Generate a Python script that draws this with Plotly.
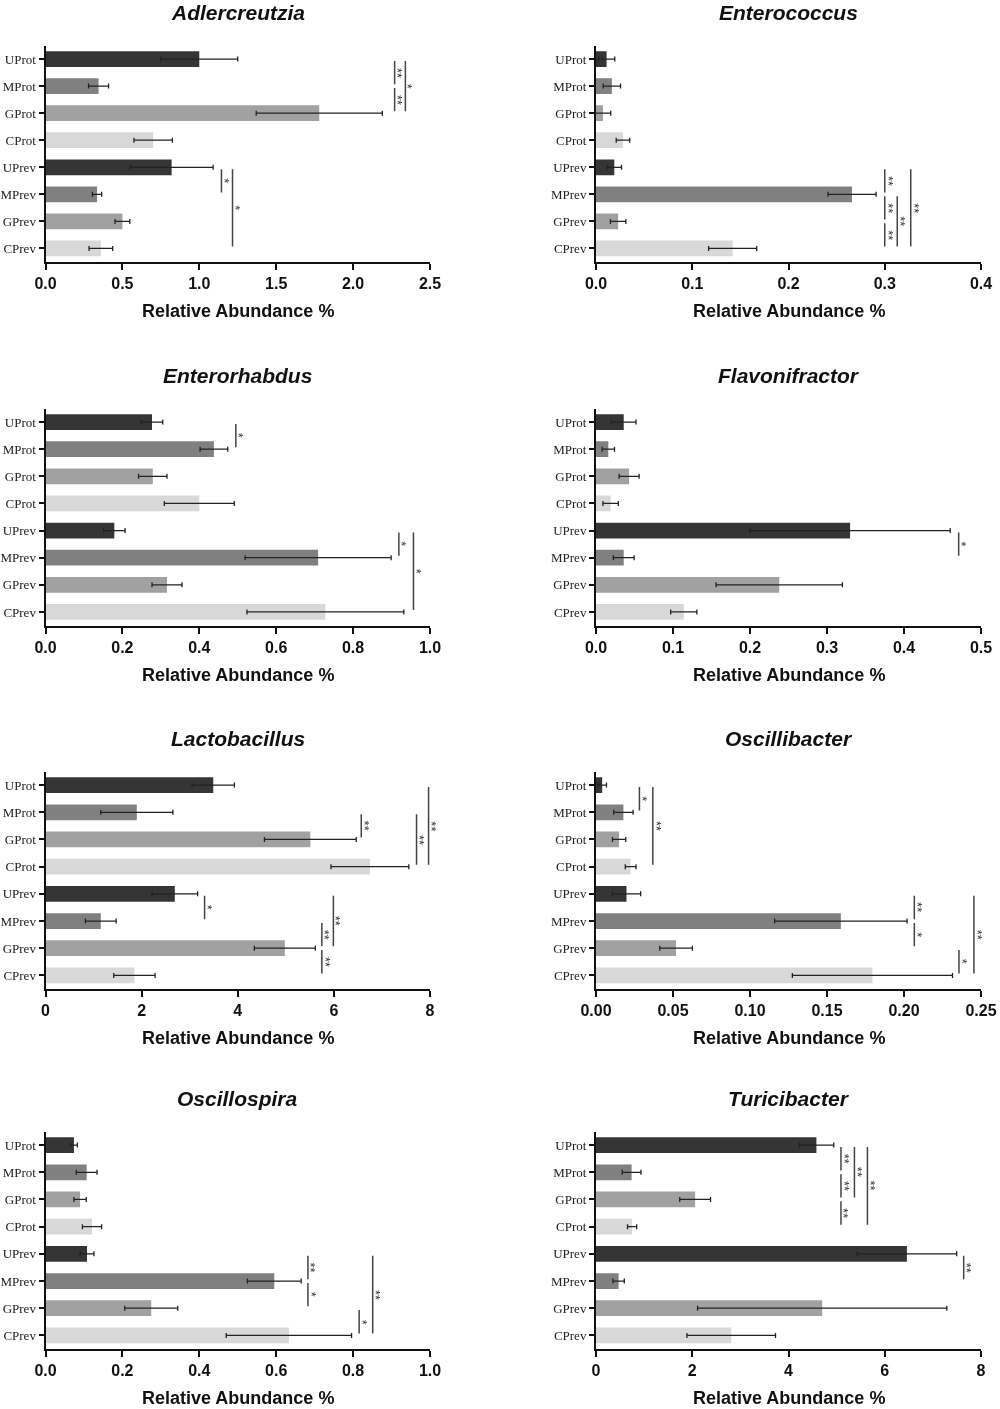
import plotly.graph_objects as go

groups = ["UProt", "MProt", "GProt", "CProt", "UPrev", "MPrev", "GPrev", "CPrev"]
group_colors = ["#353535", "#808080", "#a1a1a5", "#d8d8d8",
                "#353535", "#808080", "#a1a1a5", "#d8d8d8"]

genera = ["Adlercreutzia", "Enterococcus", "Enterorhabdus", "Flavonifractor",
          "Lactobacillus", "Oscillibacter", "Oscillospira", "Turicibacter"]

# mean relative abundance (%) and SEM per group
adlercreutzia_mean = [1.00, 0.345, 1.78, 0.70, 0.82, 0.335, 0.50, 0.36]
adlercreutzia_sem = [0.25, 0.065, 0.41, 0.125, 0.27, 0.03, 0.048, 0.077]
enterococcus_mean = [0.011, 0.0165, 0.0073, 0.028, 0.019, 0.266, 0.023, 0.142]
enterococcus_sem = [0.0085, 0.009, 0.008, 0.007, 0.0075, 0.025, 0.008, 0.025]
enterorhabdus_mean = [0.277, 0.438, 0.279, 0.40, 0.179, 0.709, 0.316, 0.728]
enterorhabdus_sem = [0.028, 0.036, 0.037, 0.091, 0.028, 0.19, 0.039, 0.204]
flavonifractor_mean = [0.036, 0.016, 0.043, 0.019, 0.330, 0.036, 0.238, 0.114]
flavonifractor_sem = [0.016, 0.008, 0.013, 0.01, 0.13, 0.0135, 0.082, 0.017]
lactobacillus_mean = [3.49, 1.90, 5.51, 6.75, 2.69, 1.15, 4.98, 1.85]
lactobacillus_sem = [0.44, 0.75, 0.955, 0.81, 0.475, 0.32, 0.635, 0.43]
oscillibacter_mean = [0.004, 0.0178, 0.015, 0.0225, 0.0198, 0.159, 0.052, 0.1795]
oscillibacter_sem = [0.0028, 0.0063, 0.0043, 0.0035, 0.0092, 0.043, 0.0106, 0.052]
oscillospira_mean = [0.074, 0.107, 0.09, 0.121, 0.108, 0.595, 0.275, 0.633]
oscillospira_sem = [0.009, 0.027, 0.016, 0.025, 0.018, 0.07, 0.069, 0.163]
turicibacter_mean = [4.58, 0.74, 2.06, 0.75, 6.46, 0.47, 4.70, 2.81]
turicibacter_sem = [0.36, 0.195, 0.32, 0.095, 1.035, 0.118, 2.59, 0.92]

# x-axis tick labels per panel
adlercreutzia_ticks = ["0.0", "0.5", "1.0", "1.5", "2.0", "2.5"]
enterococcus_ticks = ["0.0", "0.1", "0.2", "0.3", "0.4"]
enterorhabdus_ticks = ["0.0", "0.2", "0.4", "0.6", "0.8", "1.0"]
flavonifractor_ticks = ["0.0", "0.1", "0.2", "0.3", "0.4", "0.5"]
lactobacillus_ticks = ["0", "2", "4", "6", "8"]
oscillibacter_ticks = ["0.00", "0.05", "0.10", "0.15", "0.20", "0.25"]
oscillospira_ticks = ["0.0", "0.2", "0.4", "0.6", "0.8", "1.0"]
turicibacter_ticks = ["0", "2", "4", "6", "8"]

# significant comparisons: (group a, group b, label)
adlercreutzia_sig = [("UProt", "MProt", "**"), ("MProt", "GProt", "**"), ("UProt", "GProt", "*"),
                     ("UPrev", "MPrev", "*"), ("UPrev", "CPrev", "*")]
enterococcus_sig = [("UPrev", "MPrev", "**"), ("MPrev", "GPrev", "**"), ("GPrev", "CPrev", "**"),
                    ("MPrev", "CPrev", "**"), ("UPrev", "CPrev", "**")]
enterorhabdus_sig = [("UProt", "MProt", "*"), ("UPrev", "MPrev", "*"), ("UPrev", "CPrev", "*")]
flavonifractor_sig = [("UPrev", "MPrev", "*")]
lactobacillus_sig = [("MProt", "GProt", "**"), ("MProt", "CProt", "**"), ("UProt", "CProt", "**"),
                     ("UPrev", "MPrev", "*"), ("MPrev", "GPrev", "**"), ("GPrev", "CPrev", "**"),
                     ("UPrev", "GPrev", "**")]
oscillibacter_sig = [("UProt", "MProt", "*"), ("UProt", "CProt", "**"),
                     ("UPrev", "MPrev", "**"), ("MPrev", "GPrev", "*"),
                     ("GPrev", "CPrev", "*"), ("UPrev", "CPrev", "**")]
oscillospira_sig = [("UPrev", "MPrev", "**"), ("MPrev", "GPrev", "*"),
                    ("GPrev", "CPrev", "*"), ("UPrev", "CPrev", "**")]
turicibacter_sig = [("UProt", "MProt", "**"), ("MProt", "GProt", "**"), ("GProt", "CProt", "**"),
                    ("UProt", "GProt", "**"), ("UProt", "CProt", "**"), ("UPrev", "MPrev", "**")]

# x level at which each bracket line is drawn (same order as the comparisons)
adlercreutzia_lvl = [2.27, 2.27, 2.34, 1.144, 1.216]
enterococcus_lvl = [0.300, 0.300, 0.300, 0.313, 0.327]
enterorhabdus_lvl = [0.495, 0.919, 0.957]
flavonifractor_lvl = [0.471]
lactobacillus_lvl = [6.57, 7.72, 7.97, 3.31, 5.75, 5.75, 5.99]
oscillibacter_lvl = [0.0282, 0.0369, 0.2067, 0.2067, 0.2357, 0.2454]
oscillospira_lvl = [0.6825, 0.6825, 0.8157, 0.851]
turicibacter_lvl = [5.09, 5.09, 5.09, 5.37, 5.64, 7.64]

panels = [
    (adlercreutzia_mean, adlercreutzia_sem, adlercreutzia_sig, adlercreutzia_lvl, adlercreutzia_ticks),
    (enterococcus_mean, enterococcus_sem, enterococcus_sig, enterococcus_lvl, enterococcus_ticks),
    (enterorhabdus_mean, enterorhabdus_sem, enterorhabdus_sig, enterorhabdus_lvl, enterorhabdus_ticks),
    (flavonifractor_mean, flavonifractor_sem, flavonifractor_sig, flavonifractor_lvl, flavonifractor_ticks),
    (lactobacillus_mean, lactobacillus_sem, lactobacillus_sig, lactobacillus_lvl, lactobacillus_ticks),
    (oscillibacter_mean, oscillibacter_sem, oscillibacter_sig, oscillibacter_lvl, oscillibacter_ticks),
    (oscillospira_mean, oscillospira_sem, oscillospira_sig, oscillospira_lvl, oscillospira_ticks),
    (turicibacter_mean, turicibacter_sem, turicibacter_sig, turicibacter_lvl, turicibacter_ticks),
]

W, H = 1000, 1409
col_px = [(45.5, 430.0), (596.0, 981.0)]
row_px = [(45.5, 262.0), (408.5, 625.5), (771.5, 989.0), (1131.5, 1349.0)]
title_px = [12, 375, 738, 1098]
xtitle_px = [311, 675, 1038, 1398]


def fx(p):
    return p / W


def fy(p):
    return 1 - p / H


SANS = "Liberation Sans, Arial, sans-serif"
SERIF = "Liberation Serif, Times New Roman, serif"

fig = go.Figure()
shapes = []
annotations = []
layout = {}

for k, (mean, sem, sig, lvl, ticks) in enumerate(panels):
    row, col = divmod(k, 2)
    n = k + 1
    xa = "x" if n == 1 else f"x{n}"
    ya = "y" if n == 1 else f"y{n}"
    ypos = list(range(len(groups)))
    tickvals = [float(t) for t in ticks]

    fig.add_trace(go.Bar(
        x=mean, y=ypos, orientation="h", width=0.58,
        marker=dict(color=group_colors, line=dict(width=0)),
        error_x=dict(type="data", array=sem, color="#222222", thickness=1.3, width=2.5),
        xaxis=xa, yaxis=ya, showlegend=False, hoverinfo="x+text", text=groups,
        textposition="none",
    ))

    x0, x1 = col_px[col]
    top, bot = row_px[row]
    layout["xaxis" if n == 1 else f"xaxis{n}"] = dict(
        domain=[fx(x0), fx(x1)], anchor=ya, range=[0, tickvals[-1]],
        tickvals=tickvals, ticktext=ticks, showline=True, linecolor="#111111", linewidth=2,
        ticks="outside", ticklen=6, tickwidth=2, tickcolor="#111111",
        showgrid=False, zeroline=False, automargin=False,
        tickfont=dict(family=SANS, size=16, color="#111111", weight="bold"),
    )
    layout["yaxis" if n == 1 else f"yaxis{n}"] = dict(
        domain=[fy(bot), fy(top)], anchor=xa, range=[7.5, -0.5],
        tickvals=ypos, ticktext=groups, showline=True, linecolor="#111111",
        linewidth=2, ticks="outside", ticklen=5, tickwidth=2, tickcolor="#111111",
        showgrid=False, zeroline=False, automargin=False,
        tickfont=dict(family=SERIF, size=13, color="#222222"),
    )

    for (ga, gb, label), xl in zip(sig, lvl):
        i, j = groups.index(ga), groups.index(gb)
        shapes.append(dict(type="line", xref=xa, yref=ya, x0=xl, x1=xl,
                           y0=i + 0.07, y1=j - 0.07,
                           line=dict(color="#444444", width=1.5)))
        # stars written along the bracket (rotated a quarter turn)
        annotations.append(dict(xref=xa, yref=ya, x=xl, y=(i + j) / 2, text=label,
                                showarrow=False, textangle=90, xanchor="center",
                                yanchor="middle", xshift=3,
                                font=dict(family=SANS, size=13, color="#333333")))

    cx = fx((x0 + x1) / 2)
    annotations.append(dict(xref="paper", yref="paper", x=cx, y=fy(title_px[row]),
                            text=f"<b><i>{genera[k]}</i></b>", showarrow=False,
                            xanchor="center", yanchor="middle",
                            font=dict(family=SANS, size=21, color="#111111")))
    annotations.append(dict(xref="paper", yref="paper", x=cx, y=fy(xtitle_px[row]),
                            text="<b>Relative Abundance %</b>", showarrow=False,
                            xanchor="center", yanchor="middle",
                            font=dict(family=SANS, size=18, color="#111111")))

fig.update_layout(
    width=W, height=H, margin=dict(l=0, r=0, t=0, b=0),
    paper_bgcolor="white", plot_bgcolor="white",
    shapes=shapes, annotations=annotations, bargap=0.4,
    **layout,
)

# drop the default 8px page margin so the figure fills the window, and keep the
# rotated star glyphs grey (the chart is greyscale throughout anyway)
page_js = (
    "document.body.style.margin='0px'; document.body.style.overflow='hidden';"
    "document.querySelectorAll('.main-svg').forEach(function(s){s.style.filter='grayscale(1)';});"
)
fig.write_html("out.html", config={"displayModeBar": False}, post_script=page_js)
